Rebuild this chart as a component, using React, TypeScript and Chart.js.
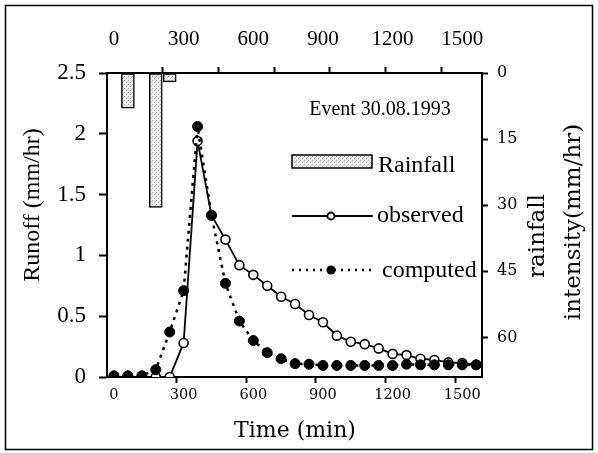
import React, { useEffect, useRef } from 'react';
import { Chart, registerables } from 'chart.js';

Chart.register(...registerables);

// ---- data ----
const times = [0, 60, 120, 180, 240, 300, 360, 420, 480, 540, 600, 660, 720, 780, 840, 900, 960, 1020, 1080, 1140, 1200, 1260, 1320, 1380, 1440, 1500, 1560];
const observed = [0, 0, 0, 0, 0, 0.28, 1.94, 1.33, 1.13, 0.92, 0.84, 0.75, 0.66, 0.6, 0.51, 0.45, 0.34, 0.29, 0.27, 0.235, 0.19, 0.18, 0.15, 0.14, 0.12, 0.115, 0.1];
const computed = [0.01, 0.01, 0.01, 0.06, 0.37, 0.71, 2.06, 1.33, 0.77, 0.46, 0.3, 0.2, 0.15, 0.11, 0.105, 0.095, 0.095, 0.095, 0.095, 0.095, 0.095, 0.105, 0.1, 0.1, 0.1, 0.1, 0.1];
const rainTimes = [60, 180, 240];
const rainfall = [8.0, 30.5, 2.0];
const timeLabels = [0, 300, 600, 900, 1200, 1500];
const bottomMarks = [270, 570, 870, 1170, 1470];
const topMarks = [210, 450, 690, 930, 1170, 1410];
const runoffTicks = [0, 0.5, 1, 1.5, 2, 2.5];
const rainTicks = [0, 15, 30, 45, 60];

function makePattern(): CanvasPattern | string {
  const c = document.createElement('canvas');
  c.width = 4;
  c.height = 4;
  const g = c.getContext('2d');
  if (!g) return '#e4e4e4';
  g.fillStyle = '#ededed';
  g.fillRect(0, 0, 4, 4);
  g.fillStyle = '#a8a8a8';
  g.fillRect(0, 0, 1, 1);
  g.fillRect(2, 2, 1, 1);
  g.fillStyle = '#d0d0d0';
  g.fillRect(3, 1, 1, 1);
  const p = g.createPattern(c, 'repeat');
  return p || '#e4e4e4';
}

export default function App() {
  const ref = useRef<HTMLCanvasElement>(null);

  useEffect(() => {
    if (!ref.current) return;
    const pattern = makePattern();
    const TIMES = '"Liberation Serif", "Times New Roman", serif';
    const PAL = '"DejaVu Serif", serif';

    const annot = {
      id: 'annot',
      afterDraw(chart: any) {
        const ctx = chart.ctx as CanvasRenderingContext2D;
        ctx.save();
        ctx.strokeStyle = '#000';
        ctx.lineWidth = 1.5;
        ctx.strokeRect(5.5, 5.5, 587, 444);
        ctx.fillStyle = '#000';
        ctx.textAlign = 'center';
        ctx.textBaseline = 'middle';

        // left title
        ctx.save();
        ctx.translate(33, 205);
        ctx.rotate(-Math.PI / 2);
        ctx.font = '24px ' + TIMES;
        ctx.fillText('Runoff (mm/hr)', 0, 0);
        ctx.restore();

        // right titles
        ctx.save();
        ctx.translate(538, 236);
        ctx.rotate(-Math.PI / 2);
        ctx.font = '23px ' + PAL;
        ctx.fillText('rainfall', 0, 0);
        ctx.restore();
        ctx.save();
        ctx.translate(574, 222);
        ctx.rotate(-Math.PI / 2);
        ctx.font = '23px ' + PAL;
        ctx.fillText('intensity(mm/hr)', 0, 0);
        ctx.restore();

        // bottom title
        ctx.font = '22px ' + PAL;
        ctx.fillText('Time (min)', 295, 431);

        // event text
        ctx.font = '20px ' + TIMES;
        ctx.fillText('Event 30.08.1993', 380, 110);

        // legend
        ctx.textAlign = 'left';
        ctx.textBaseline = 'alphabetic';
        ctx.font = '24px ' + TIMES;
        ctx.fillStyle = pattern as any;
        ctx.fillRect(292, 155, 80, 13);
        ctx.lineWidth = 1.5;
        ctx.strokeRect(292, 155, 80, 13);
        ctx.fillStyle = '#000';
        ctx.fillText('Rainfall', 378, 172);

        ctx.beginPath();
        ctx.moveTo(292, 216);
        ctx.lineTo(373, 216);
        ctx.lineWidth = 1.8;
        ctx.stroke();
        ctx.beginPath();
        ctx.arc(331, 216, 3.5, 0, Math.PI * 2);
        ctx.fillStyle = '#fff';
        ctx.fill();
        ctx.stroke();
        ctx.fillStyle = '#000';
        ctx.fillText('observed', 377, 222);

        ctx.beginPath();
        ctx.setLineDash([2, 5]);
        ctx.lineWidth = 2.5;
        ctx.moveTo(292, 270);
        ctx.lineTo(373, 270);
        ctx.stroke();
        ctx.setLineDash([]);
        ctx.beginPath();
        ctx.arc(331, 270, 4.5, 0, Math.PI * 2);
        ctx.fill();
        ctx.fillText('computed', 382, 277);
        ctx.restore();
      },
    };

    const tickCol = (marks: number[]) => (c: any) =>
      c.tick && marks.includes(c.tick.value) ? '#000' : 'rgba(0,0,0,0)';

    const chart = new Chart(ref.current, {
      type: 'line',
      data: {
        datasets: [
          {
            type: 'line',
            label: 'computed',
            data: times.map((t, i) => ({ x: t, y: computed[i] })),
            xAxisID: 'x',
            yAxisID: 'y',
            borderColor: '#000',
            borderWidth: 2.5,
            borderDash: [3, 5],
            pointRadius: 5,
            pointBackgroundColor: '#000',
            pointBorderColor: '#000',
            pointBorderWidth: 1,
            tension: 0,
            order: 0,
          } as any,
          {
            type: 'line',
            label: 'observed',
            data: times.map((t, i) => ({ x: t, y: observed[i] })),
            xAxisID: 'x',
            yAxisID: 'y',
            borderColor: '#000',
            borderWidth: 1.8,
            pointRadius: 4.5,
            pointBackgroundColor: '#fff',
            pointBorderColor: '#000',
            pointBorderWidth: 1.6,
            tension: 0,
            order: 1,
          } as any,
          {
            type: 'bar',
            label: 'Rainfall',
            data: rainTimes.map((t, i) => ({ x: t, y: rainfall[i] })),
            xAxisID: 'x',
            yAxisID: 'y2',
            backgroundColor: pattern as any,
            borderColor: '#000',
            borderWidth: 1.5,
            borderSkipped: false,
            barThickness: 13,
            order: 2,
          } as any,
        ],
      },
      options: {
        responsive: false,
        animation: false,
        devicePixelRatio: 1,
        layout: { padding: 0 },
        plugins: { legend: { display: false }, tooltip: { enabled: false } },
        scales: {
          x: {
            type: 'linear',
            position: 'bottom',
            offset: false,
            min: -30,
            max: 1585,
            afterBuildTicks: (s: any) => {
              s.ticks = [...timeLabels, ...bottomMarks].sort((a, b) => a - b).map((v) => ({ value: v }));
            },
            afterFit: (s: any) => { s.height = 76; },
            ticks: {
              autoSkip: false,
              maxRotation: 0,
              padding: 4,
              color: '#000',
              font: { family: PAL, size: 14.5 },
              callback: (v: any) => (timeLabels.includes(v) ? String(v) : ''),
            },
            grid: { offset: false, drawOnChartArea: false, tickLength: 6, tickWidth: 2, tickColor: tickCol(bottomMarks) },
            border: { color: '#000', width: 2 },
          },
          x2: {
            type: 'linear',
            position: 'top',
            offset: false,
            min: -30,
            max: 1585,
            afterBuildTicks: (s: any) => {
              s.ticks = [...timeLabels, ...topMarks].sort((a, b) => a - b).map((v) => ({ value: v }));
            },
            afterFit: (s: any) => { s.height = 73; },
            ticks: {
              autoSkip: false,
              maxRotation: 0,
              padding: 15,
              color: '#000',
              font: { family: TIMES, size: 21 },
              callback: (v: any) => (timeLabels.includes(v) ? String(v) : ''),
            },
            grid: { offset: false, drawOnChartArea: false, tickLength: 6, tickWidth: 2, tickColor: tickCol(topMarks) },
            border: { color: '#000', width: 2 },
          },
          y: {
            type: 'linear',
            position: 'left',
            min: 0,
            max: 2.5,
            afterBuildTicks: (s: any) => {
              s.ticks = runoffTicks.map((v) => ({ value: v }));
            },
            afterFit: (s: any) => { s.width = 107; },
            ticks: {
              padding: 13,
              color: '#000',
              font: { family: TIMES, size: 23 },
              callback: (v: any) => String(v),
            },
            grid: { drawOnChartArea: false, tickLength: 8, tickWidth: 2, tickColor: '#000' },
            border: { color: '#000', width: 2 },
          },
          y2: {
            type: 'linear',
            position: 'right',
            min: 0,
            max: 69,
            reverse: true,
            afterBuildTicks: (s: any) => {
              s.ticks = rainTicks.map((v) => ({ value: v }));
            },
            afterFit: (s: any) => { s.width = 116; },
            ticks: {
              padding: 9,
              color: '#000',
              font: { family: PAL, size: 16 },
              callback: (v: any) => String(v),
            },
            grid: { drawOnChartArea: false, tickLength: 6, tickWidth: 2, tickColor: '#000' },
            border: { color: '#000', width: 2 },
          },
        },
      },
      plugins: [annot],
    } as any);
    return () => chart.destroy();
  }, []);

  return (
    <div style={{ position: 'fixed', left: 0, top: 0, width: 598, height: 453, background: '#fff' }}>
      <canvas ref={ref} width={598} height={453} style={{ display: 'block' }} />
    </div>
  );
}
